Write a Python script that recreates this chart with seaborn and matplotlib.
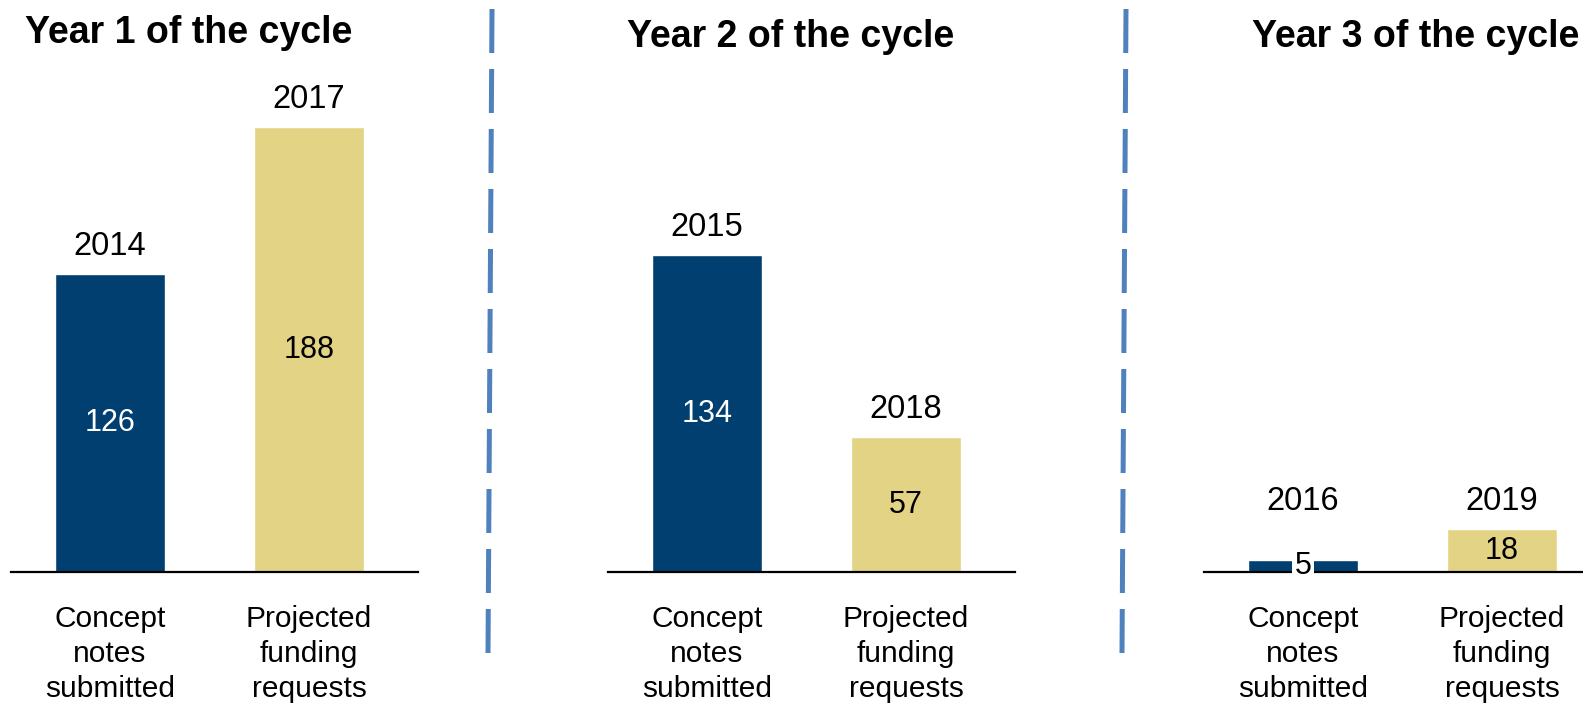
import pandas as pd
import seaborn as sns
import matplotlib.pyplot as plt
from matplotlib.lines import Line2D

# Data
categories = ["Concept\nnotes\nsubmitted", "Projected\nfunding\nrequests"]
panel_titles = ["Year 1 of the cycle", "Year 2 of the cycle", "Year 3 of the cycle"]
concept_notes = [126, 134, 5]
funding_requests = [188, 57, 18]
concept_years = ["2014", "2015", "2016"]
funding_years = ["2017", "2018", "2019"]

blue = "#023F71"
gold = "#E3D384"
dash_blue = "#4F81BD"

sns.set_theme(style="white")
plt.rcParams['font.family'] = ['Liberation Sans', 'DejaVu Sans']

W, H = 1583, 706
fig = plt.figure(figsize=(W / 100, H / 100), dpi=100)

px_per_unit = 2.365       # vertical scale (pixels per value)
unit_w = 199              # horizontal distance between bar centres (px)
baseline = 572            # baseline y (px from top)
first_centres = [110, 707, 1303]
xlim = (-0.5, 1.55)

for i in range(3):
    left = first_centres[i] + xlim[0] * unit_w
    width = (xlim[1] - xlim[0]) * unit_w
    ax = fig.add_axes([left / W, (H - baseline) / H, width / W, baseline / H])
    df = pd.DataFrame({
        "category": categories,
        "value": [concept_notes[i], funding_requests[i]],
        "year": [concept_years[i], funding_years[i]],
    })
    sns.barplot(data=df, x="category", y="value", hue="category",
                palette=[blue, gold], legend=False, width=0.553,
                saturation=1, ax=ax)
    ax.set_xlim(*xlim)
    ax.set_ylim(0, baseline / px_per_unit)
    ax.set_xlabel("")
    ax.set_ylabel("")
    ax.set_yticks([])
    for s in ["top", "left", "right"]:
        ax.spines[s].set_visible(False)
    ax.spines["bottom"].set_color("black")
    ax.spines["bottom"].set_linewidth(1.6)
    ax.spines["bottom"].set_clip_on(False)
    ax.tick_params(axis="x", length=0, pad=24, labelsize=21.5, colors="black")
    for lab in ax.get_xticklabels():
        lab.set_linespacing(1.3)

    for j, row in df.iterrows():
        v = row["value"]
        # year label above each bar (tiny bars get lifted above their value label)
        ax.annotate(row["year"], xy=(j, max(v, 18)), xytext=(0, 9),
                    textcoords="offset points", ha="center", va="bottom",
                    fontsize=23.5, color="black")
        # value label inside the bar
        if v < 10:
            ax.text(j, v / 2, str(v), ha="center", va="center", fontsize=22,
                    color="black", zorder=5,
                    bbox=dict(boxstyle="square,pad=0.08", fc="white", ec="none"))
        else:
            txt_color = "white" if j == 0 else "black"
            ax.text(j, v / 2, str(v), ha="center", va="center", fontsize=22,
                    color=txt_color)

# panel titles
title_pos = [(189, 43), (791, 47), (1416, 47)]
for t, (x, y) in zip(panel_titles, title_pos):
    fig.text(x / W, 1 - y / H, t, ha="center", va="baseline",
             fontsize=27, fontweight="bold", color="black")

# dashed separators between panels
for x_top, x_bot in [(492, 488), (1126, 1122)]:
    fig.add_artist(Line2D([x_top / W, x_bot / W], [1 - 9 / H, 1 - 653 / H],
                          transform=fig.transFigure, color=dash_blue, lw=3.6,
                          linestyle=(0, (44 / 5, 16 / 5)), solid_capstyle="butt",
                          dash_capstyle="butt"))

plt.savefig("out.png", dpi=100)
plt.close()
